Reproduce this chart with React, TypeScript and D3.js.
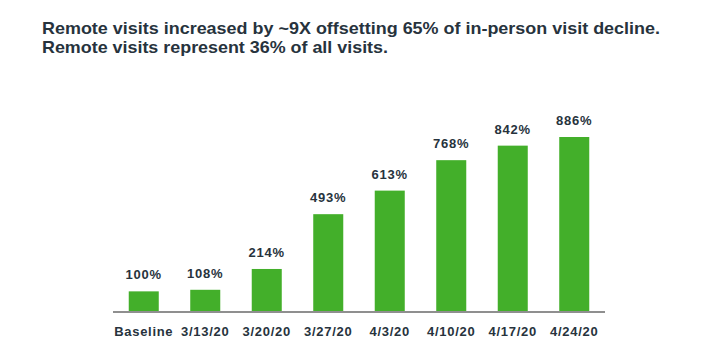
import React from "react";
import * as d3 from "d3";

const categories = ["Baseline", "3/13/20", "3/20/20", "3/27/20", "4/3/20", "4/10/20", "4/17/20", "4/24/20"];
const values = [100, 108, 214, 493, 613, 768, 842, 886];
const titleLines = [
  "Remote visits increased by ~9X offsetting 65% of in-person visit decline.",
  "Remote visits represent 36% of all visits.",
];

const W = 706;
const H = 358;
const GREEN = "#43AF2A";
const TEXT = "#27333d";
const FONT = "'Liberation Sans', Arial, sans-serif";

export default function App() {
  const x = d3.scaleBand<string>().domain(categories).range([113, 605]).paddingInner(0.512).paddingOuter(0.256);
  const y = d3.scaleLinear().domain([0, 886]).range([311, 137]);

  return (
    <svg width={W} height={H} style={{ position: "absolute", left: 0, top: 0, background: "#fff" }} fontFamily={FONT}>
      <rect width={W} height={H} fill="#fff" />
      {titleLines.map((t, i) => (
        <text key={i} x={42} y={34 + i * 19} fontSize={17} fontWeight="bold" fill={TEXT}
          textLength={i === 0 ? 618 : 346} lengthAdjust="spacingAndGlyphs">
          {t}
        </text>
      ))}
      {categories.map((c, i) => {
        const bx = x(c)!;
        const v = values[i];
        return (
          <g key={c}>
            <rect x={bx} y={y(v)} width={x.bandwidth()} height={y(0) - y(v)} fill={GREEN} />
            <text x={bx + x.bandwidth() / 2} y={y(v) - 12} textAnchor="middle" fontSize={13} fontWeight="bold"
              fill={TEXT} letterSpacing={0.8}>
              {v + "%"}
            </text>
            <text x={bx + x.bandwidth() / 2} y={336} textAnchor="middle" fontSize={13} fontWeight="bold"
              fill={TEXT} letterSpacing={0.7}>
              {c}
            </text>
          </g>
        );
      })}
      <line x1={113} x2={605} y1={y(0) + 1} y2={y(0) + 1} stroke="#8f8f8f" strokeWidth={2.2} />
    </svg>
  );
}
